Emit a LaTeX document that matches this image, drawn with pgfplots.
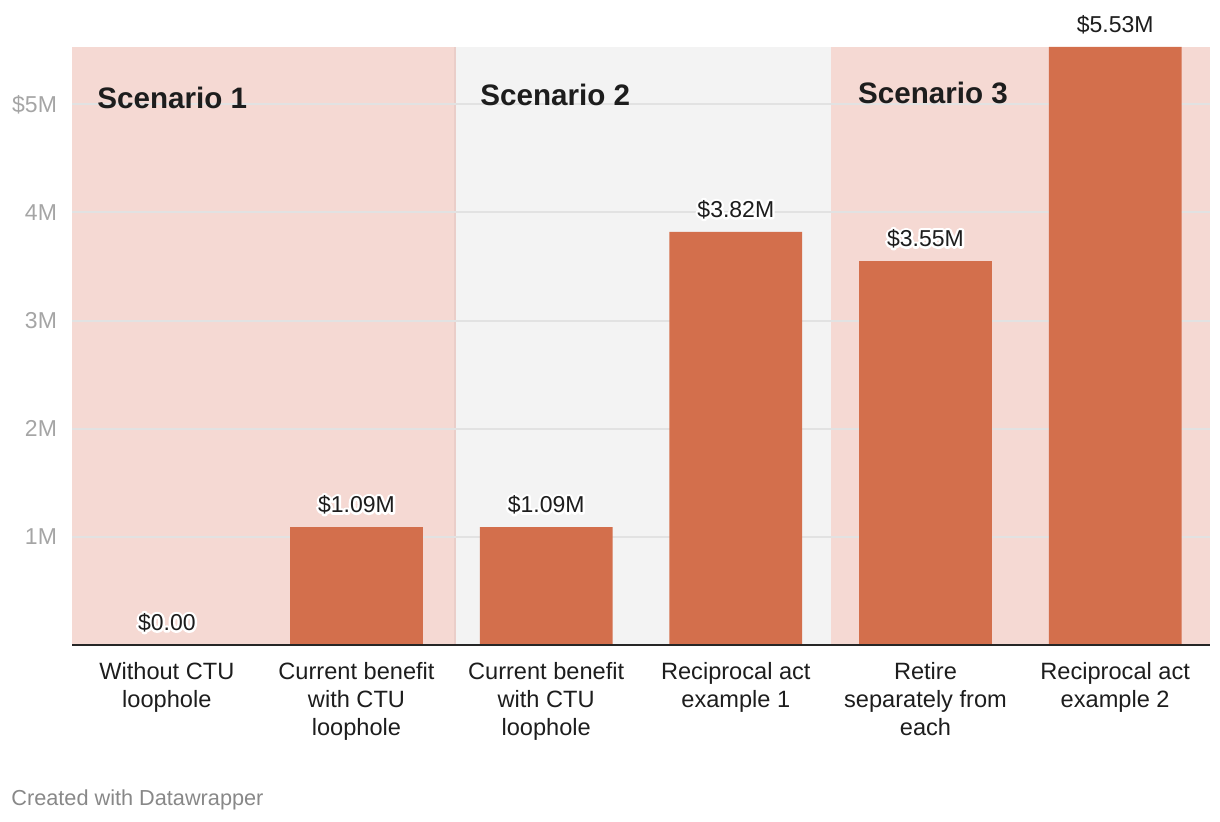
\documentclass[border=0pt]{standalone}
\usepackage{fontspec}
\setmainfont{Liberation Sans}
\usepackage{pgfplots}
\pgfplotsset{compat=1.18}
\usepackage{pgfplotstable}
\definecolor{barc}{RGB}{211,111,76}
\definecolor{pinkband}{RGB}{245,217,211}
\definecolor{grayband}{RGB}{243,243,243}
\definecolor{edgec}{RGB}{234,206,201}
\definecolor{gridc}{RGB}{226,226,226}
\definecolor{tickc}{RGB}{165,165,165}
\definecolor{txt}{RGB}{29,29,29}
\definecolor{foot}{RGB}{136,136,136}
% white halo: stroke-only pass in white, then the normal text on top
\newcommand\halo[1]{\rlap{\special{pdf:literal direct q 1 Tr 1 1 1 RG 2.4 w 1 j 1 J}#1\special{pdf:literal direct Q}}#1}

\pgfplotstableread{
x y label
0 0 {\$0.00}
1 1.09 {\$1.09M}
2 1.09 {\$1.09M}
3 3.82 {\$3.82M}
4 3.55 {\$3.55M}
5 5.53 {\$5.53M}
}\datatable

\begin{document}
\begin{tikzpicture}
\begin{axis}[
  at={(0,0)}, anchor=south west,
  scale only axis, width=569pt, height=299pt,
  set layers,
  clip=false,
  xmin=-0.5, xmax=5.5, ymin=0, ymax=5.53,
  axis line style={draw=none},
  major tick length=0pt,
  ymajorgrids, grid style={gridc, line width=1pt},
  ytick={1,2,3,4,5},
  yticklabels={1M,2M,3M,4M,\$5M},
  yticklabel style={font=\fontsize{11.5}{13}\selectfont, text=tickc, xshift=-4pt},
  xtick={0,1,2,3,4,5},
  xticklabels={Without CTU\\loophole, Current benefit\\with CTU\\loophole, Current benefit\\with CTU\\loophole, Reciprocal act\\example 1, Retire\\separately from\\each, Reciprocal act\\example 2},
  xticklabel style={align=center, font=\fontsize{11.8}{14}\selectfont, text=txt, yshift=-5pt},
  ybar, bar width=0.7,
]
\begin{pgfonlayer}{axis background}
  \fill[pinkband] (axis cs:-0.5,0) rectangle (axis cs:1.52,5.53);
  \fill[grayband] (axis cs:1.52,0) rectangle (axis cs:3.5,5.53);
  \fill[pinkband] (axis cs:3.5,0) rectangle (axis cs:5.5,5.53);
  \draw[edgec, line width=1pt] (axis cs:1.52,0) -- (axis cs:1.52,5.53);
\end{pgfonlayer}
\addplot[fill=barc, draw=none, point meta=explicit symbolic,
  nodes near coords={\halo{\pgfplotspointmeta}},
  every node near coord/.append style={font=\fontsize{11.5}{14}\selectfont, text=txt, yshift=3pt}]
  table[x=x, y=y, meta=label]{\datatable};
\draw[black!85, line width=1pt] (axis cs:-0.5,0) -- (axis cs:5.5,0);
\node[inner sep=0pt, anchor=base west, font=\bfseries\fontsize{14.8}{18}\selectfont, text=txt] at (axis cs:-0.368,4.963) {Scenario 1};
\node[inner sep=0pt, anchor=base west, font=\bfseries\fontsize{14.8}{18}\selectfont, text=txt] at (axis cs:1.651,4.99) {Scenario 2};
\node[inner sep=0pt, anchor=base west, font=\bfseries\fontsize{14.8}{18}\selectfont, text=txt] at (axis cs:3.643,5.01) {Scenario 3};
\end{axis}
\node[inner sep=0pt, anchor=base west, font=\fontsize{10.85}{12}\selectfont, text=foot] at (-30.5pt,-80.5pt) {Created with Datawrapper};
\pgfresetboundingbox
\useasboundingbox (-36pt,-88.5pt) rectangle (574pt,322.5pt);
\end{tikzpicture}
\end{document}
